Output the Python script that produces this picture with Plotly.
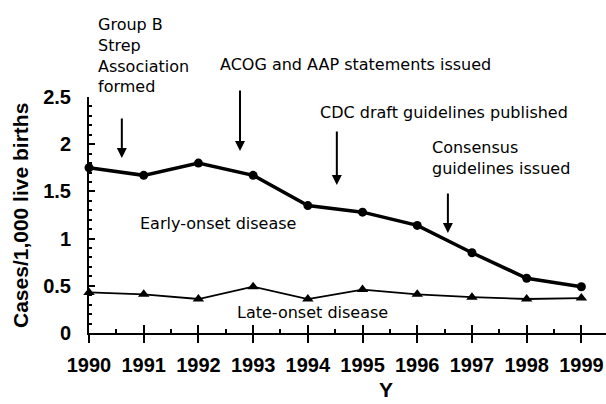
import plotly.graph_objects as go

years = [1990, 1991, 1992, 1993, 1994, 1995, 1996, 1997, 1998, 1999]
early_onset = [1.75, 1.67, 1.80, 1.67, 1.35, 1.28, 1.14, 0.85, 0.58, 0.49]
late_onset = [0.43, 0.41, 0.36, 0.49, 0.36, 0.46, 0.41, 0.38, 0.36, 0.37]
y_ticks = [0, 0.5, 1, 1.5, 2, 2.5]
y_tick_labels = ["0", "0.5", "1", "1.5", "2", "2.5"]

# event annotations: (text, text x, text y [axis domain], arrow x, arrow tail, arrow head)
events = [
    ("Group B<br>Strep<br>Association<br>formed", 1990.13, 1.176, 1990.6, 0.915, 0.742),
    ("ACOG and AAP statements issued", 1994.88, 1.136, 1992.76, 1.034, 0.771),
    ("CDC draft guidelines published", 1996.49, 0.936, 1994.53, 0.860, 0.627),
    ("Consensus<br>guidelines issued", 1996.23, 0.742, 1996.56, 0.597, 0.424),
]

fig = go.Figure()
fig.add_trace(go.Scatter(
    x=years, y=early_onset, mode="lines+markers",
    line=dict(color="black", width=3.5),
    marker=dict(symbol="circle", size=9, color="black"),
    cliponaxis=False, showlegend=False))
fig.add_trace(go.Scatter(
    x=years, y=late_onset, mode="lines+markers",
    line=dict(color="black", width=1.8),
    marker=dict(symbol="triangle-up", size=10, color="black"),
    cliponaxis=False, showlegend=False))
# invisible trace to activate overlaying x axis (crossing ticks)
fig.add_trace(go.Scatter(x=years, y=early_onset, xaxis="x2", mode="none",
                         showlegend=False, hoverinfo="skip"))

annot_font = dict(family="DejaVu Sans", size=16, color="black")
anns = []
for i, (txt, tx, ty, axx, tail, head) in enumerate(events):
    anns.append(dict(
        x=tx, y=ty, xref="x", yref="y domain", text=txt, showarrow=False,
        xanchor="left" if i in (0, 3) else "center", yanchor="middle", align="left",
        font=annot_font))
    anns.append(dict(
        x=axx, y=head, ax=axx, ay=tail, xref="x", yref="y domain",
        axref="x", ayref="y domain", text="", showarrow=True,
        arrowhead=2, arrowsize=1, arrowwidth=2, arrowcolor="black"))

anns.append(dict(x=1992.36, y=0.462, xref="x", yref="y domain", text="Early-onset disease",
                 xanchor="center", yanchor="middle", showarrow=False, font=annot_font))
anns.append(dict(x=1994.08, y=0.085, xref="x", yref="y domain", text="Late-onset disease",
                 xanchor="center", yanchor="middle", showarrow=False, font=annot_font))
anns.append(dict(x=0.575, y=-0.2415, xref="paper", yref="y domain", text="Y",
                 xanchor="center", yanchor="middle", showarrow=False,
                 font=dict(family="Arial", size=21, weight="bold", color="black")))
anns.append(dict(x=-0.1335, y=0.5, xref="paper", yref="y domain",
                 text="Cases/1,000 live births", textangle=-90, showarrow=False,
                 xanchor="center", yanchor="middle",
                 font=dict(family="Arial", size=21, weight="bold", color="black")))

tick_font = dict(family="Arial", size=20, weight="bold", color="black")

fig.update_layout(
    width=606, height=404,
    margin=dict(l=89, r=0, t=97, b=71),
    paper_bgcolor="white", plot_bgcolor="white",
    font=dict(family="Arial", color="black"),
    annotations=anns,
    xaxis=dict(
        range=[1990, 1999.45], tickmode="array", tickvals=years,
        ticktext=[str(y) for y in years],
        showgrid=False, zeroline=False, showline=True, linecolor="black", linewidth=2,
        ticks="outside", ticklen=8, tickwidth=2, tickcolor="black",
        tickfont=tick_font, ticklabelstandoff=5,
    ),
    xaxis2=dict(
        overlaying="x", matches="x", range=[1990, 1999.45], side="bottom",
        tickmode="array", tickvals=years, showticklabels=False,
        showgrid=False, zeroline=False, showline=False,
        ticks="inside", ticklen=8, tickwidth=2, tickcolor="black",
        minor=dict(tickvals=[y + 0.5 for y in years], ticks="inside", ticklen=4,
                   tickwidth=2, tickcolor="black"),
    ),
    yaxis=dict(
        range=[0, 2.5], tickmode="array", tickvals=y_ticks, ticktext=y_tick_labels,
        showgrid=False, zeroline=False, showline=True, linecolor="black", linewidth=2,
        ticks="inside", ticklen=6, tickwidth=2, tickcolor="black",
        minor=dict(dtick=0.1, ticks="inside", ticklen=3, tickwidth=1.5, tickcolor="black"),
        tickfont=tick_font, ticklabelstandoff=12,
    ),
)

fig.write_html("out.html", config={"displayModeBar": False},
               post_script="document.body.style.margin='0px';")
